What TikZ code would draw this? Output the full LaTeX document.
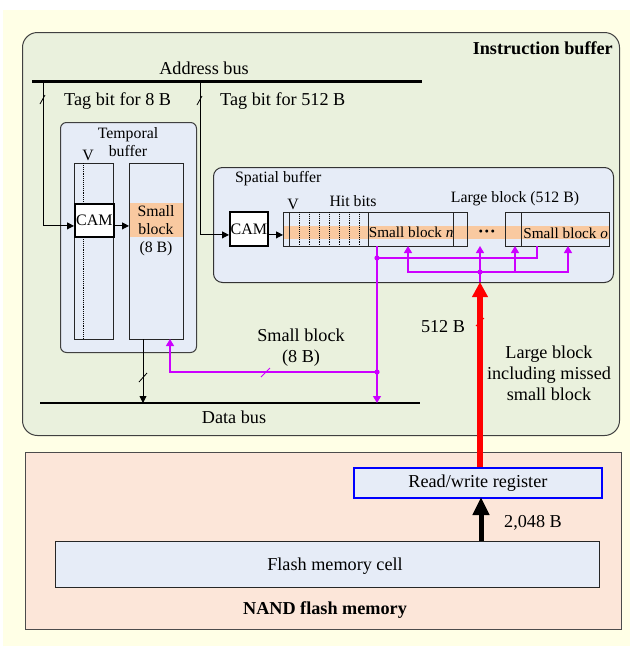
\documentclass[tikz,border=0pt]{standalone}
\usepackage{fontspec}
\setmainfont{Liberation Serif}
\usetikzlibrary{arrows.meta,calc}
\definecolor{bgyellow}{HTML}{FFFFE6}
\definecolor{ibgreen}{HTML}{EAF1DD}
\definecolor{bufblue}{HTML}{E6ECF7}
\definecolor{bandorange}{HTML}{F9C9A0}
\definecolor{nandpeach}{HTML}{FCE6D9}
\definecolor{magline}{HTML}{CC00FF}
\definecolor{regblue}{RGB}{0,0,255}
\begin{document}
\begin{tikzpicture}[x=1pt,y=-1pt,
  bigtxt/.style={font=\fontsize{18.2}{21}\selectfont, inner sep=0pt},
  smalltxt/.style={font=\fontsize{15.8}{18}\selectfont, inner sep=0pt},
  sz/.style 2 args={minimum width=#1pt, minimum height=#2pt},
  cell/.style={draw=black!85, line width=1.3pt, inner sep=0pt, anchor=north west},
  cambox/.style={draw=black, fill=white, line width=1.8pt, inner sep=0pt, anchor=north west},
  conn/.style={draw=black, line width=0.9pt},
  conarrow/.style={conn, -{Triangle[length=7pt,width=7pt]}},
  magconn/.style={draw=magline, line width=1.2pt},
  magarrow/.style={magconn, -{Triangle[length=7pt,width=8pt]}},
  tickmark/.style={line width=0.8pt},
]
% background
\fill[white] (0,0) rectangle (630,646);
\fill[bgyellow] (3,10) rectangle (630,646);

% containers
\node[draw=black!75, line width=1pt, fill=ibgreen, rounded corners=15pt, sz={597}{403}, anchor=north west, inner sep=0pt] (ib) at (22,32) {};
\node[draw=black!70, line width=1pt, fill=nandpeach, sz={596}{177}, anchor=north west, inner sep=0pt] (nand) at (25,452) {};
\node[draw=black!75, line width=1pt, fill=bufblue, rounded corners=6pt, sz={136}{230}, anchor=north west, inner sep=0pt] (tb) at (60,122) {};
\node[draw=black!80, line width=1pt, fill=bufblue, rounded corners=9pt, sz={400}{115}, anchor=north west, inner sep=0pt] (sb) at (213,167) {};

% labels of containers
\node[bigtxt, font=\fontsize{18.2}{21}\selectfont\bfseries, anchor=east] (ibl) at (613,48) {Instruction buffer};
\node[bigtxt, font=\fontsize{18.2}{21}\selectfont\bfseries] (nandl) at (325,610) {NAND flash memory};
\node[smalltxt, align=center, font=\fontsize{15.8}{18}\selectfont] (tbl) at (128,142) {Temporal\\buffer};
\node[smalltxt, anchor=west] (sbl) at (235,179) {Spatial buffer};

% temporal buffer internals
\node[cell, sz={39}{176}] (tcolL) at (74,163) {};
\draw[densely dotted, line width=0.9pt] (83,163) -- (83,339);
\fill[bandorange] (129,203) rectangle (183,237);
\node[cell, sz={54}{176}] (tcolR) at (129,163) {};
\node[cambox, sz={39}{33}] (cam1) at (74,203) {};
\node[font=\fontsize{16}{18}\selectfont, inner sep=0pt] (cam1t) at (cam1.center) {CAM};
\node[smalltxt] (tv) at (88,155) {V};
\node[smalltxt, align=center, font=\fontsize{15.8}{18}\selectfont] (tsb) at (156,220) {Small\\block};
\node[smalltxt] (tsb8) at (156,249) {(8 B)};

% spatial buffer internals
\fill[bandorange] (283,226) rectangle (609,239);
\node[cell, sz={6}{34}] (vbit) at (283,212) {};
\node[cell, sz={79}{34}] (hit) at (289,212) {};
\foreach \xx in {299,309,319,329,339,349,359}
  \draw[densely dotted, line width=0.9pt] (\xx,212) -- (\xx,246);
\node[cell, sz={85}{34}] (sbn) at (368,212) {};
\node[cell, sz={14}{34}] (nar1) at (453,212) {};
\node[cell, sz={16}{34}] (nar2) at (505,212) {};
\node[cell, sz={88}{34}] (sbo) at (521,212) {};
\node[cambox, sz={38}{34}] (cam2) at (229,211) {};
\node[font=\fontsize{16}{18}\selectfont, inner sep=0pt] (cam2t) at (cam2.center) {CAM};
\node[smalltxt] (sv) at (293,204) {V};
\node[smalltxt] (hitl) at (353,201) {Hit bits};
\node[smalltxt] (lbl) at (515,199) {Large block (512 B)};
\node[font=\fontsize{15.2}{18}\selectfont, inner sep=0pt] (sbnt) at ([yshift=-3pt]sbn.center) {Small block \textit{n}};
\node[font=\fontsize{15.2}{18}\selectfont, inner sep=0pt] (sbot) at ([yshift=-4pt]sbo.center) {Small block \textit{o}};
\node[font=\fontsize{18}{18}\selectfont\bfseries, inner sep=0pt] (dots) at (487,234) {···};

% NAND internals
\node[draw=regblue, line width=1.8pt, fill=bufblue, sz={248}{30}, anchor=north west, inner sep=0pt] (reg) at (353,467) {};
\node[bigtxt] (regt) at (reg.center) {Read/write register};
\node[draw=black!85, line width=1pt, fill=bufblue, sz={544}{46}, anchor=north west, inner sep=0pt] (fcell) at (55,541) {};
\node[bigtxt] (fcellt) at (335,566) {Flash memory cell};
\node[bigtxt, anchor=west] (b2048) at (504,523) {2,048 B};

% buses
\coordinate (ab1) at (32,81);
\coordinate (ab2) at (422,81);
\draw[line width=3pt] (ab1) -- (ab2);
\node[bigtxt] (abl) at (204,68) {Address bus};
\coordinate (db1) at (40,403);
\coordinate (db2) at (420,403);
\draw[line width=1.2pt] (db1) -- (db2);
\node[bigtxt] (dbl) at (234,417) {Data bus};

% tag lines
\node[bigtxt, anchor=west] (t8l) at (64,101) {Tag bit for 8 B};
\node[bigtxt, anchor=west] (t512l) at (220,101) {Tag bit for 512 B};
\coordinate (t8) at (43,81);
\coordinate (t512) at (200,81);
\draw[conarrow] (t8) |- ([yshift=-5.5pt]cam1.west);
\draw[conarrow] ([yshift=-5.5pt]cam1.east) -- ([yshift=-5.5pt]cam1.east -| tcolR.west);
\draw[conarrow] (t512) |- ([yshift=-6pt]cam2.west);
\draw[conarrow] ([yshift=-6pt]cam2.east) -- ([yshift=-6pt]cam2.east -| vbit.west);
\draw[tickmark] (40,104) -- (45,95);
\draw[tickmark] (197,105) -- (202,96);

% temporal buffer to data bus
\coordinate (tout) at (143,339);
\draw[conarrow] (tout) -- (tout |- db1);
\draw[tickmark] (139,382) -- (147,373);

% magenta network
\coordinate (sbnout) at (377,246);
\coordinate (sboout) at (537,246);
\coordinate (j2) at (377,258);
\coordinate (j1) at (377,372);
\coordinate (tin) at (170,339);
\draw[magconn] (sbnout) -- (j1);
\draw[magconn] (sboout) |- (j2);
\draw[magarrow] (j1) -- (j1 |- db1);
\draw[magarrow] (j1) -| (tin);
\draw[magline, line width=0.9pt] (261,377) -- (270,368);
\fill[magline] (j1) circle (2.6pt);
\fill[magline] (j2) circle (2.6pt);

\coordinate (j3) at (480,272);
\coordinate (sbbot) at (480,282);
\coordinate (sbnin) at (408,246);
\coordinate (dotsin) at (480,246);
\coordinate (nar2in) at (515,246);
\coordinate (sboin) at (568,246);
\draw[magconn] (sbbot) -- (j3);
\draw[magarrow] (j3) -- (dotsin);
\draw[magarrow] (j3) -| (sbnin);
\draw[magarrow] (j3) -| (sboin);
\draw[magarrow] (nar2in |- j3) -- (nar2in);
\fill[magline] (j3) circle (2.6pt);

% red arrow
\coordinate (regtop) at (480,467);
\draw[red, line width=6pt, -{Triangle[length=15pt,width=15pt]}] (regtop) -- (sbbot);
\draw[red, line width=0.9pt] (476,326) -- (484,318);
\node[bigtxt] (l512) at (443,327) {512 B};
\node[bigtxt, align=center, font=\fontsize{18.2}{21}\selectfont] (lbig) at (549,373) {Large block\\including missed\\small block};
\node[bigtxt, align=center, font=\fontsize{18.2}{21}\selectfont] (sb8t) at (301,348) {Small block\\(8 B)};

% black thick arrow
\coordinate (cellup) at (481,541);
\coordinate (regbot) at (481,497);
\draw[line width=5pt, -{Triangle[length=18pt,width=16pt]}] (cellup) -- (regbot);

\useasboundingbox (0,0) rectangle (630,646);
\end{tikzpicture}
\end{document}
